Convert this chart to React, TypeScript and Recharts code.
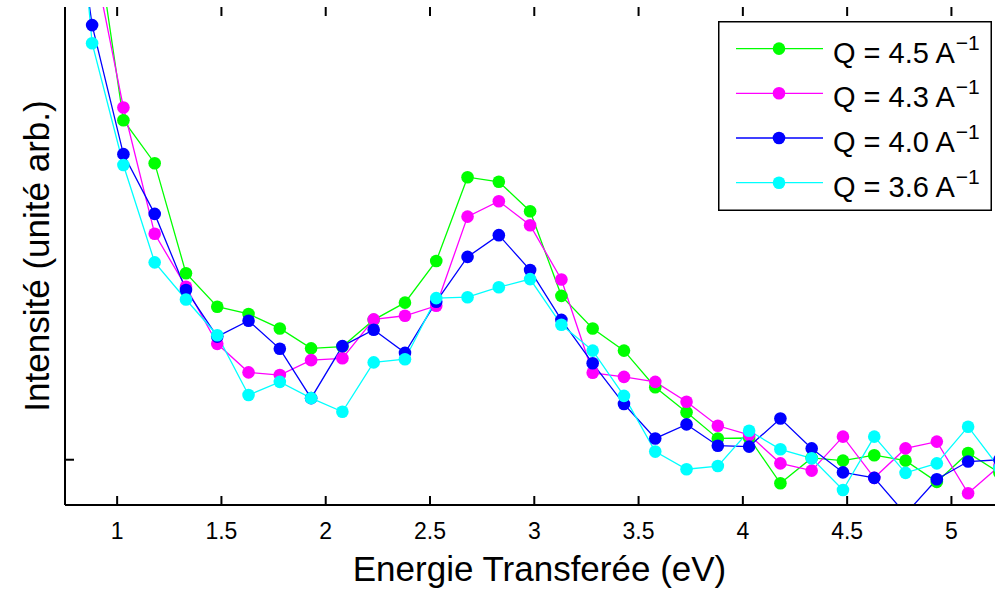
import React from "react";
import { LineChart, Line, XAxis, YAxis, Legend, Label, ReferenceLine } from "recharts";

// energie transferee (eV), pas de 0.15
const energy = [
  0.73, 0.88, 1.03, 1.18, 1.33, 1.48, 1.63, 1.78, 1.93, 2.08, 2.23, 2.38, 2.53,
  2.68, 2.83, 2.98, 3.13, 3.28, 3.43, 3.58, 3.73, 3.88, 4.03, 4.18, 4.33, 4.48,
  4.63, 4.78, 4.93, 5.08, 5.23,
];

// intensite (unite arb.) pour chaque Q
const q45 = [
  20, 12.21, 7.5, 6.55, 4.12, 3.38, 3.22, 2.9, 2.46, 2.5, 3.09, 3.47, 4.39,
  6.24, 6.14, 5.49, 3.62, 2.9, 2.41, 1.6, 1.05, 0.47, 0.48, -0.52, 0.04, -0.02,
  0.1, -0.02, -0.49, 0.15, -0.29,
];
const q43 = [
  17, 11.24, 7.78, 4.99, 3.82, 2.56, 1.93, 1.87, 2.2, 2.24, 3.1, 3.18, 3.4,
  5.37, 5.71, 5.18, 3.98, 1.92, 1.83, 1.72, 1.28, 0.75, 0.55, -0.08, -0.24,
  0.51, -0.4, 0.25, 0.4, -0.74, -0.14,
];
const q40 = [
  14.57, 9.6, 6.75, 5.43, 3.75, 2.72, 3.07, 2.45, 1.36, 2.51, 2.87, 2.36, 3.49,
  4.48, 4.96, 4.19, 3.09, 2.13, 1.23, 0.47, 0.78, 0.31, 0.29, 0.91, 0.25, -0.28,
  -0.4, -1.2, -0.43, -0.04, 0.0,
];
const q36 = [
  16.85, 9.2, 6.51, 4.36, 3.54, 2.75, 1.43, 1.72, 1.36, 1.06, 2.15, 2.22, 3.57,
  3.59, 3.81, 3.99, 2.98, 2.41, 1.41, 0.18, -0.21, -0.14, 0.64, 0.23, 0.03,
  -0.67, 0.51, -0.29, -0.08, 0.73, -0.18,
];

const xTicks = [1, 1.5, 2, 2.5, 3, 3.5, 4, 4.5, 5];
const yTicks = [0];

const series = [
  { key: "q45", label: "Q = 4.5 A", color: "#00ff00" },
  { key: "q43", label: "Q = 4.3 A", color: "#ff00ff" },
  { key: "q40", label: "Q = 4.0 A", color: "#0000ff" },
  { key: "q36", label: "Q = 3.6 A", color: "#00ffff" },
];

const chartData = energy.map((e, i) => ({
  e,
  q45: q45[i],
  q43: q43[i],
  q40: q40[i],
  q36: q36[i],
}));

const FONT = "'Liberation Sans', Arial, sans-serif";
const Y_MIN = -1;
const Y_MAX = 10;
const PLOT_H = 498;
const TICK = 9; // ticks vers l'interieur, en px
const tickLen = (TICK * (Y_MAX - Y_MIN)) / PLOT_H;
const BOTTOM_MARGIN = 34;
const AXIS_W = 2;

const BottomTick = (props: any) => (
  <text
    x={props.x}
    y={props.y}
    textAnchor="middle"
    fontSize={23}
    fontFamily={FONT}
    fill="#000"
  >
    {props.payload.value}
  </text>
);

const LeftTick = (props: any) => {
  const x = Number(props.x);
  const y = Number(props.y);
  return <rect x={x} y={y - AXIS_W / 2} width={TICK} height={AXIS_W} fill="#000" />;
};

// legende encadree facon matlab
const LegendBox = () => (
  <svg width={274} height={190} style={{ display: "block" }}>
    <rect
      x={0.75}
      y={0.75}
      width={272.5}
      height={188.5}
      fill="#fff"
      stroke="#000"
      strokeWidth={1.5}
    />
    {series.map((s, i) => {
      const cy = 27.6 + i * 44.7;
      return (
        <g key={s.key}>
          <line x1={18} x2={105} y1={cy} y2={cy} stroke={s.color} strokeWidth={1.3} />
          <circle cx={61} cy={cy} r={6.3} fill={s.color} />
          <text x={115} y={cy + 14} fontSize={29} fontFamily={FONT} fill="#000">
            {s.label}
            <tspan fontSize={21} dx={1} dy={-13}>
              {"\u22121"}
            </tspan>
          </text>
        </g>
      );
    })}
  </svg>
);

const YTitle = (props: any) => {
  const vb = props.viewBox || { x: 0, y: 0, width: 0, height: 0 };
  const cx = vb.x + 36;
  const cy = vb.y + vb.height / 2;
  return (
    <text
      x={cx}
      y={cy}
      transform={`rotate(-90, ${cx}, ${cy})`}
      textAnchor="middle"
      dominantBaseline="central"
      fontSize={35}
      fontFamily={FONT}
      fill="#000"
    >
      Intensité (unité arb.)
    </text>
  );
};

export default function App() {
  return (
    <div
      style={{
        position: "fixed",
        left: 0,
        top: 0,
        width: 995,
        height: 590,
        overflow: "hidden",
        background: "#fff",
        fontFamily: FONT,
      }}
    >
      <LineChart
        width={1014}
        height={590}
        data={chartData}
        margin={{ top: 7, right: 0, bottom: 0, left: 0 }}
      >
        <XAxis
          xAxisId="b"
          dataKey="e"
          type="number"
          domain={[0.75, 5.3]}
          ticks={xTicks}
          allowDataOverflow
          height={85}
          tickSize={0}
          tickMargin={BOTTOM_MARGIN}
          tickLine={false}
          axisLine={{ stroke: "#000", strokeWidth: AXIS_W }}
          tick={<BottomTick />}
          interval={0}
        >
          <Label
            value="Energie Transferée (eV)"
            position="insideBottom"
            offset={9}
            fontSize={35}
            fill="#000"
            fontFamily={FONT}
          />
        </XAxis>
        <XAxis
          xAxisId="t"
          dataKey="e"
          type="number"
          orientation="top"
          domain={[0.75, 5.3]}
          ticks={xTicks}
          allowDataOverflow
          height={0}
          tickLine={false}
          tick={false}
          axisLine={{ stroke: "#000", strokeWidth: AXIS_W }}
        />
        <YAxis
          yAxisId="l"
          type="number"
          domain={[Y_MIN, Y_MAX]}
          ticks={yTicks}
          allowDataOverflow
          width={65}
          tickSize={0}
          tickMargin={0}
          tickLine={false}
          tick={<LeftTick />}
          interval={0}
          axisLine={{ stroke: "#000", strokeWidth: AXIS_W }}
        >
          <Label content={<YTitle />} />
        </YAxis>
        {xTicks.map((t) => (
          <ReferenceLine
            key={`b${t}`}
            xAxisId="b"
            yAxisId="l"
            segment={[
              { x: t, y: Y_MIN },
              { x: t, y: Y_MIN + tickLen },
            ]}
            stroke="#000"
            strokeWidth={AXIS_W}
          />
        ))}
        {xTicks.map((t) => (
          <ReferenceLine
            key={`t${t}`}
            xAxisId="b"
            yAxisId="l"
            segment={[
              { x: t, y: Y_MAX },
              { x: t, y: Y_MAX - tickLen },
            ]}
            stroke="#000"
            strokeWidth={AXIS_W}
          />
        ))}
        <Legend
          layout="vertical"
          align="center"
          verticalAlign="middle"
          content={<LegendBox />}
          wrapperStyle={{ position: "absolute", left: 718, top: 21, width: 274 }}
        />
        {series.map((s) => (
          <Line
            key={s.key}
            xAxisId="b"
            yAxisId="l"
            dataKey={s.key}
            name={s.label}
            type="linear"
            stroke={s.color}
            strokeWidth={1.3}
            dot={{ r: 6.3, fill: s.color, stroke: s.color, strokeWidth: 0 }}
            activeDot={false}
            isAnimationActive={false}
          />
        ))}
      </LineChart>
    </div>
  );
}
